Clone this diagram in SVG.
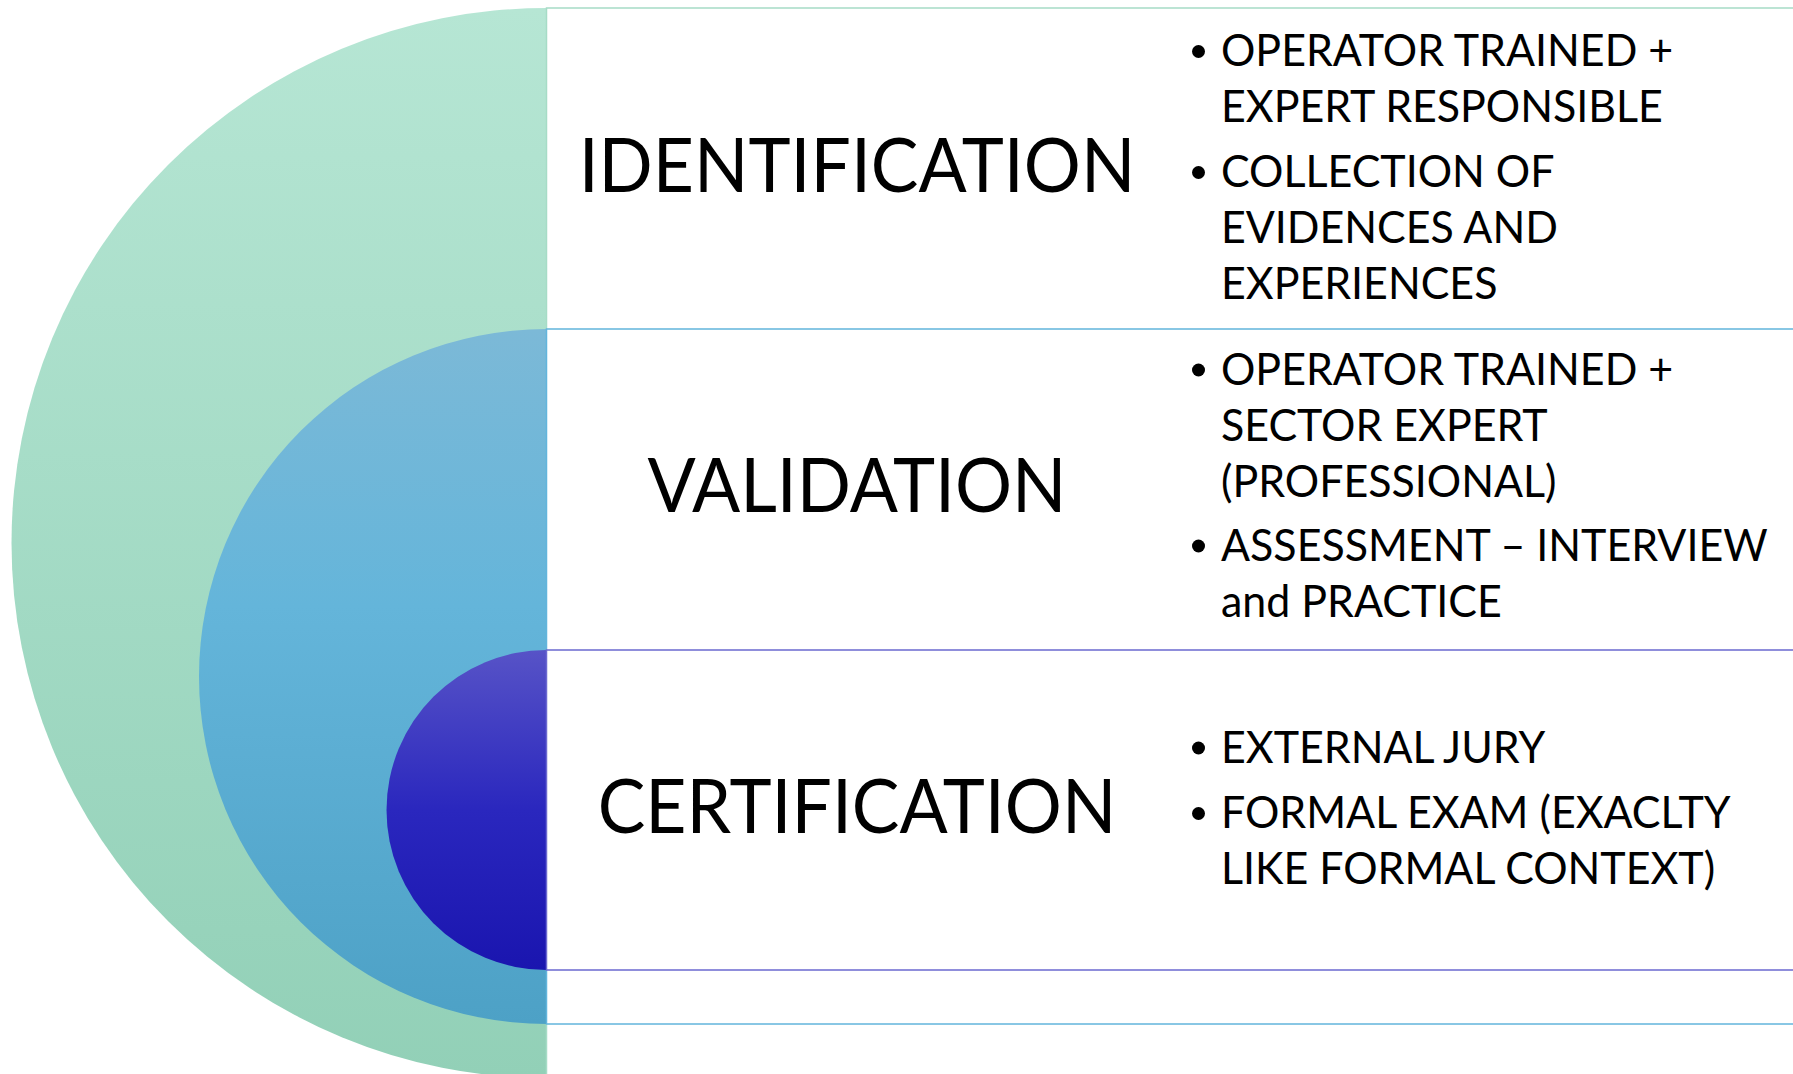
<svg xmlns="http://www.w3.org/2000/svg" width="1793" height="1074" viewBox="0 0 1793 1074">
<defs>
<linearGradient id="gGreen" x1="0" y1="8" x2="0" y2="1078" gradientUnits="userSpaceOnUse">
<stop offset="0" stop-color="#b6e6d4"/>
<stop offset="1" stop-color="#92d0b7"/>
</linearGradient>
<linearGradient id="gBlue" x1="0" y1="329" x2="0" y2="1024" gradientUnits="userSpaceOnUse">
<stop offset="0" stop-color="#7cb9d7"/>
<stop offset="0.4" stop-color="#64b5da"/>
<stop offset="1" stop-color="#4da1c6"/>
</linearGradient>
<linearGradient id="gPurple" x1="0" y1="650" x2="0" y2="970" gradientUnits="userSpaceOnUse">
<stop offset="0" stop-color="#5753c7"/>
<stop offset="0.5" stop-color="#2a27be"/>
<stop offset="1" stop-color="#1a15af"/>
</linearGradient>
<style>
.title{font-family:Lato,"Liberation Sans",sans-serif;font-size:75px;fill:#000;text-anchor:middle}
.item{font-family:Lato,"Liberation Sans",sans-serif;font-size:45px;fill:#000}
.dot{fill:#000}
.box{fill:#fff;stroke-width:1.5}
</style>
</defs>

<g id="identification">
<path d="M546.5 8 A535 535 0 0 0 546.5 1078 Z" fill="url(#gGreen)"/>
<rect class="box" x="546.5" y="8" width="1300" height="1070" stroke="#a6dcc6"/>
</g>

<g id="validation">
<path d="M546.5 329 A347.5 347.5 0 0 0 546.5 1024 Z" fill="url(#gBlue)"/>
<rect class="box" x="546.5" y="329" width="1300" height="695" stroke="#62b5dc"/>
</g>

<g id="certification">
<path d="M546.5 650 A160 160 0 0 0 546.5 970 Z" fill="url(#gPurple)"/>
<rect class="box" x="546.5" y="650" width="1300" height="320" stroke="#6b69d0"/>
</g>

<g id="connectors"></g>

<g id="identification-text">
<g transform="translate(857 0) scale(0.951 1)"><text class="title" x="0" y="192">IDENTIFICATION</text></g>
<circle class="dot" cx="1198.5" cy="51.5" r="6.5"/>
<circle class="dot" cx="1198.5" cy="172.5" r="6.5"/>
<g transform="translate(1221 0) scale(0.954 1)">
<text class="item" x="0" y="66.5">OPERATOR TRAINED +</text>
<text class="item" x="0" y="122.5">EXPERT RESPONSIBLE</text>
<text class="item" x="0" y="187.5">COLLECTION OF</text>
<text class="item" x="0" y="243">EVIDENCES AND</text>
<text class="item" x="0" y="299.5">EXPERIENCES</text>
</g>
</g>

<g id="validation-text">
<g transform="translate(857 0) scale(0.951 1)"><text class="title" x="0" y="512.5">VALIDATION</text></g>
<circle class="dot" cx="1198.5" cy="370" r="6.5"/>
<circle class="dot" cx="1198.5" cy="546" r="6.5"/>
<g transform="translate(1221 0) scale(0.954 1)">
<text class="item" x="0" y="385">OPERATOR TRAINED +</text>
<text class="item" x="0" y="441.5">SECTOR EXPERT</text>
<text class="item" x="0" y="497">(PROFESSIONAL)</text>
<text class="item" x="0" y="561">ASSESSMENT – INTERVIEW</text>
<text class="item" x="0" y="617">and PRACTICE</text>
</g>
</g>

<g id="certification-text">
<g transform="translate(857 0) scale(0.951 1)"><text class="title" x="0" y="833">CERTIFICATION</text></g>
<circle class="dot" cx="1198.5" cy="748" r="6.5"/>
<circle class="dot" cx="1198.5" cy="813.5" r="6.5"/>
<g transform="translate(1221 0) scale(0.954 1)">
<text class="item" x="0" y="763">EXTERNAL JURY</text>
<text class="item" x="0" y="828.5">FORMAL EXAM (EXACLTY</text>
<text class="item" x="0" y="884">LIKE FORMAL CONTEXT)</text>
</g>
</g>
</svg>
